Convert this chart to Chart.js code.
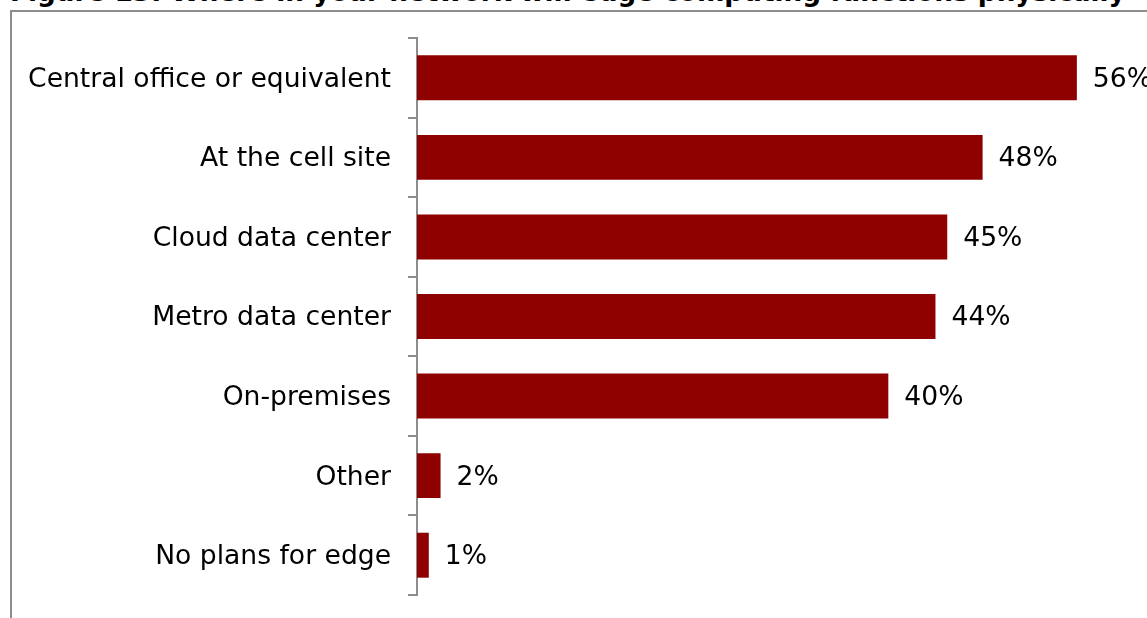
<!DOCTYPE html>
<html>
<head>
<meta charset="utf-8">
<script src="https://cdn.jsdelivr.net/npm/chart.js@4.4.1/dist/chart.umd.min.js"></script>
<style>
  html, body { margin: 0; padding: 0; width: 1147px; height: 618px; overflow: hidden; background: #fff; }
  #title { position: absolute; left: 10px; top: -23px; white-space: nowrap;
           font: bold 26.3px "DejaVu Sans", Verdana, sans-serif; color: #000; line-height: 30px; }
  #frame { position: absolute; left: 10px; top: 10px; width: 1400px; height: 900px;
           border: 2px solid #8c8c8c; box-sizing: border-box; }
  #wrap { position: absolute; left: 0; top: 0; width: 1147px; height: 618px; }
</style>
</head>
<body>
<div id="title">Figure 13: Where in your network will edge computing functions physically</div>
<div id="frame"></div>
<div id="wrap"><canvas id="edgeChart" width="1147" height="618"></canvas></div>
<script>
// locations and share of respondents (%)
const locations = ['Central office or equivalent', 'At the cell site', 'Cloud data center',
                   'Metro data center', 'On-premises', 'Other', 'No plans for edge'];
const shares = [56, 48, 45, 44, 40, 2, 1];

const FONT = '"DejaVu Sans", Verdana, sans-serif';
const AXIS_GREY = '#8c8c8c';

// percent labels just past the end of each bar
const barLabels = {
    id: 'barLabels',
    afterDatasetsDraw(chart) {
        const ctx = chart.ctx;
        const meta = chart.getDatasetMeta(0);
        ctx.save();
        ctx.font = '26.6px ' + FONT;
        ctx.fillStyle = '#000';
        ctx.textAlign = 'left';
        ctx.textBaseline = 'middle';
        meta.data.forEach((bar, i) => {
            ctx.fillText(shares[i] + '%', bar.x + 16, bar.y + 2);
        });
        ctx.restore();
    }
};

new Chart(document.getElementById('edgeChart'), {
    type: 'bar',
    data: {
        labels: locations,
        datasets: [{
            data: shares,
            backgroundColor: '#8f0000',
            borderWidth: 0,
            barPercentage: 0.565,
            categoryPercentage: 1
        }]
    },
    options: {
        indexAxis: 'y',
        responsive: false,
        animation: false,
        layout: { padding: { top: 38, bottom: 23, left: 0, right: 23 } },
        plugins: { legend: { display: false }, tooltip: { enabled: false } },
        scales: {
            x: { display: false, min: 0, max: 60 },
            y: {
                afterFit(scale) {
                    // fixed axis box, no extra room for the end labels
                    scale.width = 417;
                    scale.paddingTop = 0;
                    scale.paddingBottom = 0;
                },
                grid: { drawOnChartArea: false, drawTicks: true, tickLength: 9, color: AXIS_GREY, lineWidth: 2 },
                border: { display: true, color: AXIS_GREY, width: 2 },
                ticks: { color: '#000', padding: 17, labelOffset: 2, font: { family: FONT, size: 26.6 } }
            }
        }
    },
    plugins: [barLabels]
});
</script>
</body>
</html>
